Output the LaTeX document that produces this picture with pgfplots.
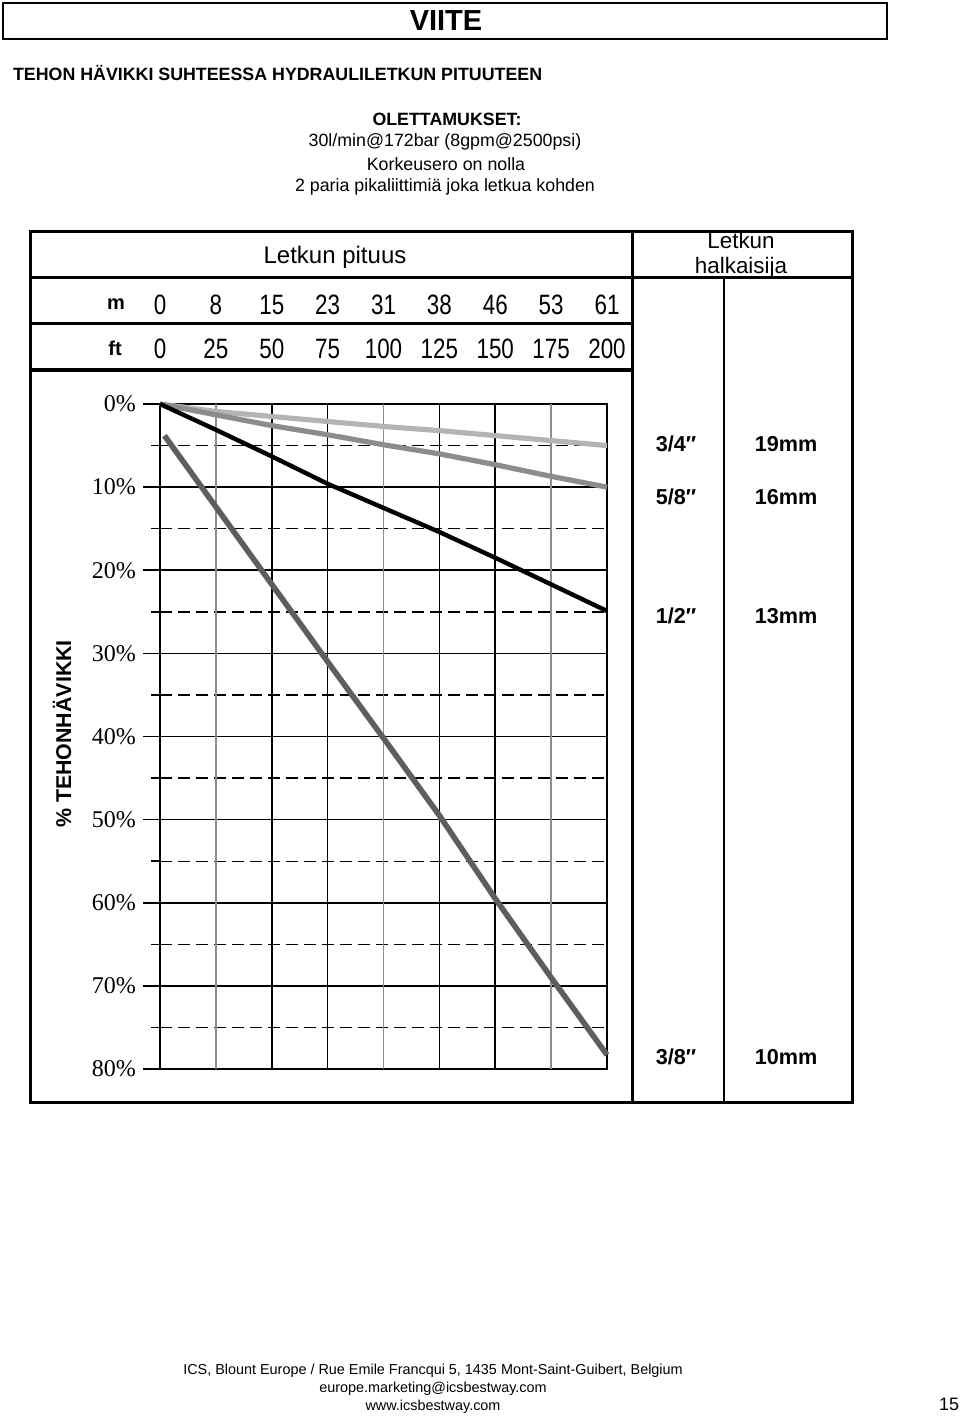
\documentclass[border=0pt]{standalone}
\usepackage{fontspec}
\setmainfont{Liberation Sans}
\newfontfamily\serif{Liberation Serif}
\newfontfamily\narrow[FakeStretch=0.8]{Liberation Sans}
\usepackage{pgfplots}
\pgfplotsset{compat=1.18}
\definecolor{lightg}{HTML}{B4B4B4}
\definecolor{midg}{HTML}{8C8C8C}
\definecolor{darkg}{HTML}{5E5E5E}
\newcommand{\inch}{″}
\begin{document}
\begin{tikzpicture}
\begin{scope}[x=0.5pt,y=-0.5pt]
\useasboundingbox (0,0) rectangle (960,1416);
\fill[white] (0,0) rectangle (960,1416);
% page header
\draw[line width=1.1pt] (3,3) rectangle (887,39);
\node[font=\bfseries\fontsize{14.5}{16}\selectfont] at (446,21) {VIITE};
\node[anchor=west, font=\bfseries\fontsize{8.9}{11}\selectfont] at (6,73) {TEHON HÄVIKKI SUHTEESSA HYDRAULILETKUN PITUUTEEN};
\node[font=\bfseries\fontsize{8.9}{11}\selectfont] at (447,119) {OLETTAMUKSET:};
\node[font=\fontsize{8.9}{11}\selectfont] at (445,142) {30l/min@172bar (8gpm@2500psi)};
\node[font=\fontsize{8.9}{11}\selectfont] at (446,164) {Korkeusero on nolla};
\node[font=\fontsize{8.9}{11}\selectfont] at (445,187) {2 paria pikaliittimiä joka letkua kohden};
% table frame
\draw[line width=1.5pt] (30,232) rectangle (852,1102);
\draw[line width=1.5pt] (632,232) -- (632,1102);
\draw[line width=1.5pt] (30,278) -- (852,278);
\draw[line width=1pt] (724,278) -- (724,1102);
\draw[line width=1.5pt] (30,324) -- (632,324);
\draw[line width=2pt] (30,370) -- (632,370);
\node[font=\fontsize{12}{14}\selectfont] at (335,257) {Letkun pituus};
\node[align=center, font=\fontsize{11.2}{12.5}\selectfont] at (741,255) {Letkun\\halkaisija};
\node[font=\bfseries\fontsize{10}{12}\selectfont] at (116,304) {m};
\node[font=\bfseries\fontsize{10}{12}\selectfont] at (115,348) {ft};
\foreach \ft/\m in {0/0,25/8,50/15,75/23,100/31,125/38,150/46,175/53,200/61}{
  \node[font=\narrow\fontsize{14}{16}\selectfont] at ({160+\ft*2.235},305) {\m};
  \node[font=\narrow\fontsize{14}{16}\selectfont] at ({160+\ft*2.235},349) {\ft};
}
\node[rotate=90, font=\bfseries\fontsize{10.7}{12}\selectfont] at (62,734) {\% TEHONHÄVIKKI};
% hose diameters
\begin{scope}[every node/.style={font=\bfseries\fontsize{10.8}{12}\selectfont}]
\node at (676,444) {3/4\inch}; \node at (786,444) {19mm};
\node at (676,497) {5/8\inch}; \node at (786,497) {16mm};
\node at (676,616) {1/2\inch}; \node at (786,616) {13mm};
\node at (676,1057) {3/8\inch}; \node at (786,1057) {10mm};
\end{scope}
% footer
\node[align=center, font=\fontsize{7.2}{9}\selectfont] at (433,1389) {ICS, Blount Europe / Rue Emile Francqui 5, 1435 Mont-Saint-Guibert, Belgium\\europe.marketing@icsbestway.com\\www.icsbestway.com};
\node[font=\fontsize{9}{11}\selectfont] at (949,1404) {15};
\end{scope}
\begin{axis}[
  at={(191.75pt,-368.25pt)}, anchor=center,
  scale only axis, width=223.5pt, height=332.5pt,
  xmin=0, xmax=200, ymin=0, ymax=80, y dir=reverse,
  axis line style={line width=1.3pt},
  xtick={0,50,75,125,150,200}, extra x ticks={25,100,175},
  xticklabels={}, extra x tick labels={},
  x tick style={draw=none},
  extra x tick style={major grid style={midg, line width=0.8pt}},
  ytick={0,10,...,80}, minor y tick num=1,
  ytick pos=left, tick align=outside,
  major tick length=8.5pt, minor tick length=4.5pt,
  y tick style={black, line width=0.8pt},
  grid=both,
  major grid style={black, line width=0.8pt},
  minor grid style={black, line width=0.7pt, dash pattern=on 6pt off 3pt},
  yticklabel={\pgfmathprintnumber{\tick}\%},
  /pgf/number format/assume math mode=true,
  yticklabel style={font=\serif\fontsize{12}{14}\selectfont},
  clip=false,
]
% 3/4" 19mm
\addplot[lightg, line width=2.6pt] coordinates {(0,0) (25,0.9) (50,1.5) (75,2.1) (100,2.7) (125,3.2) (150,3.8) (175,4.4) (200,5.0)};
% 5/8" 16mm
\addplot[midg, line width=2.6pt] coordinates {(0,0) (25,1.3) (50,2.6) (75,3.7) (100,4.9) (125,6.0) (150,7.3) (175,8.7) (200,10.0)};
% 1/2" 13mm
\addplot[black, line width=2.2pt] coordinates {(0,0) (25,3.1) (50,6.3) (75,9.6) (100,12.5) (125,15.4) (150,18.5) (175,21.7) (200,24.9)};
% 3/8" 10mm
\addplot[darkg, line width=2.8pt] coordinates {(2,3.8) (75,31.0) (100,40.2) (125,49.5) (150,59.5) (175,69.0) (200,78.3)};
\end{axis}
\end{tikzpicture}
\end{document}
